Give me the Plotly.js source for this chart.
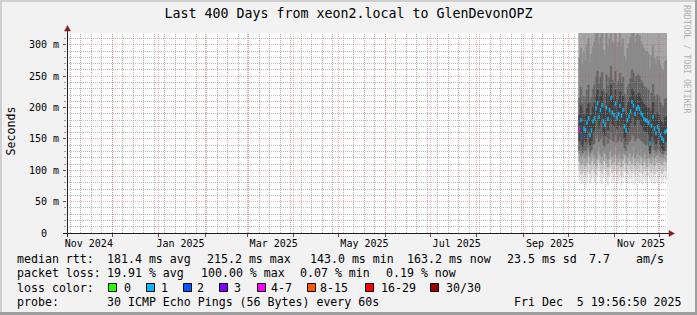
<!DOCTYPE html>
<html><head><meta charset="utf-8">
<script src="https://cdn.plot.ly/plotly-3.0.1.min.js"></script>
<style>
html,body{margin:0;padding:0;background:#f2f2f2;overflow:hidden;}
#chart{width:697px;height:315px;}
</style></head><body><div id="chart"></div>
<script>
// ---------------- DATA ----------------
const xStart = '2024-10-31 19:56:50';
const xEnd   = '2025-12-05 19:56:50';
const firstDay = '2025-10-08';   // first day with measurements (daily columns)

const median = [165,180,154,166,164,176,183,156,164,178,
                183,199,207,185,196,204,178,172,200,182,
                196,215,192,188,206,184,190,203,187,196,
                170,164,180,186,194,209,203,190,198,201,
                198,191,188,182,180,179,176,143,171,185,
                166,159,169,165,156,151,147,161,163];
const lossIdx = [4,1,2,1,1,1,1,1,1,1,
                 1,1,1,1,1,1,1,1,1,1,
                 1,1,1,1,1,1,1,1,1,1,
                 1,1,1,1,1,1,1,1,1,1,
                 1,1,1,1,1,1,1,1,1,1,
                 1,1,1,1,1,1,1,1,1];
// smoke: sorted-ping band edges (ms)
const lo1 = [84,78,80,88,76,82,95,79,86,92, 80,77,90,98,83,79,87,101,81,76, 89,94,80,85,99,78,83,91,76,88, 96,82,79,93,86,80,100,77,84,90, 81,95,78,87,83,76,92,86,80,86, 78,94,82,88,88,79,85,90,84];
const lo2 = [100,94,97,104,93,98,110,95,101,106, 97,93,104,112,99,95,102,114,97,92, 104,108,96,100,113,94,99,105,92,103, 110,98,95,107,101,96,114,93,100,105, 97,109,94,102,99,92,106,100,96,101, 94,108,98,103,100,95,100,104,99];
const lo3 = [114,108,111,118,107,112,122,109,115,119, 111,107,117,124,113,109,116,126,111,106, 117,121,110,114,125,108,113,118,106,116, 123,112,109,120,115,110,126,107,114,118, 111,121,108,116,113,106,119,112,110,115, 108,120,112,116,112,109,114,117,112];
const lo4 = [127,121,124,130,120,125,134,122,128,132, 124,120,130,137,126,122,129,128,124,119, 130,134,123,127,138,121,126,131,119,129, 126,125,122,133,128,123,139,120,127,131, 124,134,121,129,126,119,132,120,123,128, 121,124,125,129,122,122,120,130,124];
const lo5 = [132,140,128,133,131,138,145,129,133,141, 143,152,158,146,150,155,140,138,153,143, 150,160,148,146,157,144,147,154,145,150, 136,132,141,146,149,158,155,147,151,153, 151,148,146,143,141,140,139,126,136,145, 133,130,135,133,129,127,126,131,132];
const lo6 = [147,162,138,149,146,158,166,140,147,160, 165,180,188,167,178,186,160,155,182,164, 178,196,174,170,188,166,172,185,169,178, 153,147,162,168,176,190,185,172,180,183, 180,173,170,164,162,161,158,128,154,167, 149,142,152,148,140,135,131,145,147];
const hi6 = [188,203,178,190,187,199,206,180,188,201, 207,220,228,208,218,226,200,195,222,205, 219,236,214,211,228,206,212,225,209,218, 193,187,203,209,216,230,225,212,220,223, 221,214,210,205,203,201,199,170,194,208, 189,182,192,188,180,176,172,184,186];
const hi5 = [215,232,206,218,212,228,236,208,216,229, 236,250,258,237,248,256,230,224,252,234, 248,266,244,240,258,236,242,255,239,248, 222,216,232,238,246,261,255,242,250,253, 250,243,240,234,232,231,228,200,223,237, 218,211,221,217,208,203,200,213,215];
const hi4 = [280,295,270,288,275,300,310,272,285,298, 305,318,325,300,312,322,292,285,318,298, 310,335,305,300,325,296,304,320,298,310, 282,276,294,302,312,328,322,305,315,318, 314,306,300,294,290,289,286,262,283,300, 278,270,282,276,268,262,258,274,276];
const hi3 = [360,420,330,380,345,410,450,335,370,400, 430,470,490,415,440,480,390,370,460,405, 430,510,425,410,480,400,420,465,395,430, 350,338,385,410,440,495,470,420,450,460, 445,425,410,390,380,378,365,326,355,405, 340,325,352,340,330,328,324,340,345];
const pmax = [430,520,400,460,420,500,560,410,450,490, 530,580,610,510,540,600,480,450,570,500, 530,640,520,500,600,490,515,575,485,530, 425,410,470,505,545,620,585,520,560,575, 555,525,505,480,470,468,450,380,440,500, 415,375,430,415,390,380,372,415,420];

const lossColors = ['#26ff00','#00b8ff','#0059ff','#7e00ff','#ff00ff','#ff5500','#ff0000','#a10000'];
const lossLabels = ['0','1','2','3','4-7','8-15','16-29','30/30'];

const yTickVals = [0,50,100,150,200,250,300];
const yTickText = ['0\u00a0\u00a0','50 m','100 m','150 m','200 m','250 m','300 m'];
const xLabelText = ['Nov 2024','Jan 2025','Mar 2025','May 2025','Jul 2025','Sep 2025','Nov 2025'];
const xLabelDates = ['2024-11-15 09:00','2025-01-15 12:00','2025-03-18 15:00','2025-05-18 03:00','2025-07-18 15:00','2025-09-18 20:00','2025-11-18 12:00'];

const rttStats  = ['181.4','215.2','143.0','163.2','23.5','7.7'];
const lossStats = ['19.91','100.00','0.07','0.19'];
const probeText = '30 ICMP Echo Pings (56 Bytes) every 60s';
const stampText = 'Fri Dec  5 19:56:50 2025';

// ---------------- BUILD ----------------
const DAY = 86400000;
const YMAX = 319;
function fmt(t){ return new Date(t).toISOString().slice(0,19).replace('T',' '); }
const t0 = Date.parse(firstDay + 'T00:00:00Z');
const days = median.map((_, i) => fmt(t0 + i*DAY + DAY/2));

const bands = [
  {lo: lo1, hi: pmax, c: '#e2e2e2'},
  {lo: lo2, hi: pmax, c: '#c6c6c6'},
  {lo: lo3, hi: hi3,  c: '#a4a4a4'},
  {lo: lo4, hi: hi4,  c: '#888888'},
  {lo: lo5, hi: hi5,  c: '#646464'},
  {lo: lo6, hi: hi6,  c: '#404040'}
];
const traces = bands.map(b => ({
  type: 'bar', x: days, base: b.lo, y: b.hi.map((h, i) => h - b.lo[i]),
  width: DAY, marker: {color: b.c, line: {width: 0.5, color: b.c}},
  hoverinfo: 'skip'
}));
traces.push({
  type: 'scatter', mode: 'markers', x: days, y: median,
  marker: {symbol: 'line-ns', size: 3, line: {width: 1.5, color: lossIdx.map(i => lossColors[i])}},
  hoverinfo: 'skip'
});

// geometry helpers (plot area 67..667 x 33..233 px)
const L = 67, T = 33, W = 600, H = 200;
const px = v => (v - L) / W;
const py = v => (T + H - v) / H;
const tS = Date.parse(xStart.replace(' ', 'T') + 'Z'), tE = Date.parse(xEnd.replace(' ', 'T') + 'Z');
const snap = v => Math.floor(v) + 0.5;
const xOfTime = t => snap(L + (t - tS) / (tE - tS) * W);
const yOfVal = v => snap(T + H - v / YMAX * H);

const shapes = [];
const minorGrid = 'rgba(140,140,140,0.6)', majorGrid = 'rgba(222,79,79,0.42)';
function vline(t, col) {
  const x = xOfTime(t);
  shapes.push({type:'line', xref:'paper', yref:'paper', x0: px(x), x1: px(x), y0: 0, y1: 1,
    line:{color: col, width: 1, dash: '1px,1px'}, layer: 'above'});
}
function hline(v, col) {
  const y = yOfVal(v);
  shapes.push({type:'line', xref:'paper', yref:'paper', x0: 0, x1: 1, y0: py(y), y1: py(y),
    line:{color: col, width: 1, dash: '1px,1px'}, layer: 'above'});
}
for (let t = Date.UTC(2024, 10, 3); t < tE; t += 7*DAY) vline(t, minorGrid);
const monthStarts = [];
for (let y = 2024, m = 10; ; ) {
  const t = Date.UTC(y, m, 1);
  if (t > tE) break;
  monthStarts.push(fmt(t));
  vline(t, majorGrid);
  m++; if (m > 11) { m = 0; y++; }
}
const yMinor = [];
for (let v = 10; v <= 310; v += 10) if (v % 50) yMinor.push(v);
yMinor.forEach(v => hline(v, minorGrid));
yTickVals.slice(1).forEach(v => hline(v, majorGrid));

// axes + arrows
const axisCol = '#1f1f1f', arrowCol = '#801f1f';
shapes.push({type:'line', xref:'paper', yref:'paper', x0: px(63), x1: px(671), y0: py(233.5), y1: py(233.5), line:{color: axisCol, width: 1}, layer:'above'});
shapes.push({type:'line', xref:'paper', yref:'paper', x0: px(67.5), x1: px(67.5), y0: py(237), y1: py(29), line:{color: axisCol, width: 1}, layer:'above'});
shapes.push({type:'path', xref:'paper', yref:'paper', layer:'above',
  path: `M ${px(669)} ${py(230.5)} L ${px(669)} ${py(236.5)} L ${px(674.5)} ${py(233.5)} Z`,
  fillcolor: arrowCol, line:{color: arrowCol, width: 0.5}});
shapes.push({type:'path', xref:'paper', yref:'paper', layer:'above',
  path: `M ${px(64.5)} ${py(31)} L ${px(70.5)} ${py(31)} L ${px(67.5)} ${py(25.5)} Z`,
  fillcolor: arrowCol, line:{color: arrowCol, width: 0.5}});

// frame (3D border)
shapes.push({type:'rect', xref:'paper', yref:'paper', x0: px(0), x1: px(697), y0: py(0), y1: py(2), fillcolor:'#cfcfcf', line:{width:0}, layer:'above'});
shapes.push({type:'rect', xref:'paper', yref:'paper', x0: px(0), x1: px(2), y0: py(0), y1: py(315), fillcolor:'#cfcfcf', line:{width:0}, layer:'above'});
shapes.push({type:'rect', xref:'paper', yref:'paper', x0: px(0), x1: px(697), y0: py(312), y1: py(315), fillcolor:'#9e9e9e', line:{width:0}, layer:'above'});
shapes.push({type:'rect', xref:'paper', yref:'paper', x0: px(695), x1: px(697), y0: py(0), y1: py(315), fillcolor:'#9e9e9e', line:{width:0}, layer:'above'});

// legend annotations
const legFont = {family:'DejaVu Sans Mono', size: 11.6, color:'#000'};
const annotations = [];
function txt(x, y, s) {
  annotations.push({xref:'paper', yref:'paper', x: px(x), y: py(y), text: s,
    showarrow:false, xanchor:'left', yanchor:'middle', borderpad:0, font: legFont});
}
const rowY = [259, 273, 287.5, 301.5];
txt(15.5, rowY[0], 'median rtt:');
const rttUnits = [' ms avg',' ms max',' ms min',' ms now',' ms sd',''];
const rttX = [106, 206, 309, 406, 506, 587.5];
rttStats.forEach((s, i) => txt(rttX[i], rowY[0], s + rttUnits[i]));
txt(634.5, rowY[0], 'am/s');
txt(15.5, rowY[1], 'packet loss:');
const lossUnits = [' % avg',' % max',' % min',' % now'];
const lossX = [106, 199.5, 299, 385];
lossStats.forEach((s, i) => txt(lossX[i], rowY[1], s + lossUnits[i]));
txt(15.5, rowY[2], 'loss color:');
const boxX = [108, 146, 183, 219, 257, 307, 365, 430];
const labX = [122.5, 159.5, 196, 232.5, 269.5, 318.5, 379.5, 444.5];
lossLabels.forEach((s, i) => {
  shapes.push({type:'rect', xref:'paper', yref:'paper', x0: px(boxX[i] + 0.5), x1: px(boxX[i] + 8.5), y0: py(283.5), y1: py(291.5),
    fillcolor: lossColors[i], line:{color:'#000', width:1}, layer:'above'});
  txt(labX[i], rowY[2], s);
});
txt(15.5, rowY[3], 'probe:');
txt(106, rowY[3], probeText);
txt(512.5, rowY[3], stampText);
// y-axis title
annotations.push({xref:'paper', yref:'paper', x: px(10.5), y: py(131), text:'Seconds', textangle:-90,
  showarrow:false, xanchor:'center', yanchor:'middle', font:{family:'DejaVu Sans Mono', size:11.6, color:'#000'}});
// watermark
annotations.push({xref:'paper', yref:'paper', x: px(687), y: py(59), text:'RRDTOOL / TOBI OETIKER', textangle:90,
  showarrow:false, xanchor:'center', yanchor:'middle', font:{family:'DejaVu Sans Mono', size:8.2, color:'#b0b0b0'}});

const layout = {
  width: 697, height: 315,
  margin: {l: L, r: 697 - L - W, t: T, b: 315 - T - H, pad: 0},
  paper_bgcolor: '#f2f2f2', plot_bgcolor: '#ffffff',
  showlegend: false, barmode: 'overlay', bargap: 0, bargroupgap: 0,
  font: {family: 'DejaVu Sans Mono', size: 10, color: '#000'},
  title: {text: 'Last 400 Days from xeon2.local to GlenDevonOPZ',
    font: {family: 'DejaVu Sans Mono', size: 13.3, color: '#000'},
    x: 0.5, xref: 'container', xanchor: 'center', y: 1 - 13.5/315, yref: 'container', yanchor: 'middle'},
  xaxis: {type: 'date', range: [xStart, xEnd], showgrid: false, zeroline: false, showline: false,
    tickmode: 'array', tickvals: xLabelDates, ticktext: xLabelText, ticks: '', ticklabelstandoff: 3,
    tickfont: {family: 'DejaVu Sans Mono', size: 10, color: '#000'},
    minor: {tickmode: 'array', tickvals: monthStarts, ticks: 'outside', ticklen: 3, tickcolor: '#555', showgrid: false},
    fixedrange: true},
  yaxis: {range: [0, YMAX], showgrid: false, zeroline: false, showline: false,
    tickmode: 'array', tickvals: yTickVals, ticktext: yTickText, ticks: 'outside', ticklen: 3, tickcolor: '#555',
    ticklabelstandoff: 2,
    tickfont: {family: 'DejaVu Sans Mono', size: 10, color: '#000'},
    minor: {tickmode: 'array', tickvals: yMinor, ticks: 'outside', ticklen: 2, tickcolor: '#999', showgrid: false},
    fixedrange: true},
  shapes: shapes, annotations: annotations
};
Plotly.newPlot('chart', traces, layout, {staticPlot: true, displayModeBar: false});
</script></body></html>
